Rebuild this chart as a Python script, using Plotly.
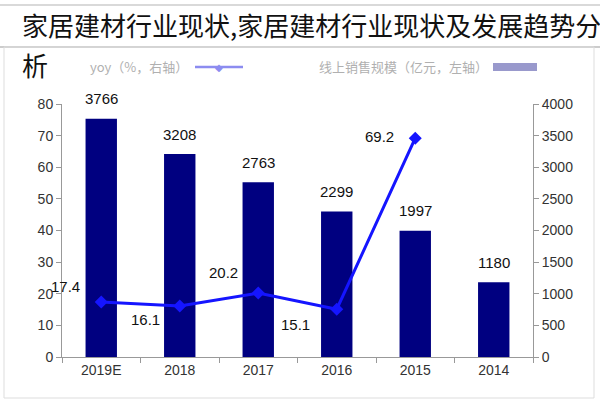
import plotly.graph_objects as go

categories = ["2019E", "2018", "2017", "2016", "2015", "2014"]
sales = [3766, 3208, 2763, 2299, 1997, 1180]          # 线上销售规模（亿元）
yoy = [17.4, 16.1, 20.2, 15.1, 69.2, None]            # yoy（%）
y_left_ticks = list(range(0, 81, 10))
y_right_ticks = list(range(0, 4001, 500))

# label offsets (pixels) for yoy labels, relative to point
yoy_dx = [-36, -34, -35, -41, -36, 0]
yoy_dy = [15, -13, 21, -15, 2, 0]

W, H = 600, 400
L, R, T, B = 62, 533, 104, 357


def px(x):
    return (x - L) / (R - L)


def py(y):
    return (B - y) / (B - T)


fig = go.Figure()
fig.add_trace(go.Bar(
    x=categories, y=sales, yaxis="y", name="线上销售规模（亿元，左轴）",
    marker=dict(color="#000080", line=dict(width=0)), width=0.4,
    showlegend=False,
))
fig.add_trace(go.Scatter(
    x=categories, y=yoy, yaxis="y2", name="yoy（%，右轴）",
    mode="lines+markers", line=dict(color="#1515ff", width=3),
    marker=dict(symbol="diamond", size=10, color="#1515ff"),
    cliponaxis=False, showlegend=False,
))

lab_font = dict(family="Liberation Sans, Arial", size=15, color="#111111")
for i, v in enumerate(sales):
    fig.add_annotation(x=i, y=v, xref="x", yref="y", text=str(v), showarrow=False,
                       yanchor="middle", yshift=20, font=lab_font)
for i, (v, dx, dy) in enumerate(zip(yoy, yoy_dx, yoy_dy)):
    if v is None:
        continue
    fig.add_annotation(x=i, y=v, xref="x", yref="y2", text=f"{v:.1f}", showarrow=False,
                       xanchor="center", yanchor="middle", xshift=dx, yshift=dy, font=lab_font)

axis_font = dict(family="Liberation Sans, Arial", size=14, color="#333333")
fig.update_layout(
    width=W, height=H,
    margin=dict(l=L, r=W - R, t=T, b=H - B),
    paper_bgcolor="white", plot_bgcolor="white",
    xaxis=dict(type="category", categoryorder="array", categoryarray=categories,
               range=[-0.5, len(categories) - 0.5],
               showline=True, linecolor="#999999", linewidth=1,
               ticks="outside", tickson="boundaries", ticklen=5, tickcolor="#999999",
               tickfont=axis_font, showgrid=False, zeroline=False),
    yaxis=dict(side="right", range=[0, 4000], tickvals=y_right_ticks,
               showline=True, linecolor="#999999", ticks="outside", ticklen=5,
               tickcolor="#999999", tickfont=axis_font, showgrid=False, zeroline=False),
    yaxis2=dict(side="left", overlaying="y", range=[0, 80], tickvals=y_left_ticks,
                showline=True, linecolor="#999999", ticks="outside", ticklen=5,
                tickcolor="#999999", tickfont=axis_font, showgrid=False, zeroline=False),
    showlegend=False,
)

# header title
title_font = dict(family="Noto Sans CJK SC", size=26, color="#111111")
fig.add_annotation(text="家居建材行业现状,家居建材行业现状及发展趋势分", xref="paper", yref="paper",
                   x=px(20), y=py(24), xanchor="left", yanchor="middle", showarrow=False,
                   font=title_font)
fig.add_annotation(text="析", xref="paper", yref="paper",
                   x=px(20), y=py(64), xanchor="left", yanchor="middle", showarrow=False,
                   font=title_font)

# legend (manual, faded)
leg_font = dict(family="Noto Sans CJK SC", size=13, color="#b0b0b0")
fig.add_annotation(text="yoy（%，右轴）", xref="paper", yref="paper",
                   x=px(190), y=py(67), xanchor="right", yanchor="middle", showarrow=False,
                   font=leg_font)
fig.add_annotation(text="线上销售规模（亿元，左轴）", xref="paper", yref="paper",
                   x=px(490), y=py(67), xanchor="right", yanchor="middle", showarrow=False,
                   font=leg_font)

shapes = [
    dict(type="line", xref="paper", yref="paper", x0=px(0), x1=px(600), y0=py(5), y1=py(5),
         line=dict(color="#cccccc", width=1.5)),
    dict(type="line", xref="paper", yref="paper", x0=px(0), x1=px(600), y0=py(47), y1=py(47),
         line=dict(color="#bbbbbb", width=1.5)),
    dict(type="rect", xref="paper", yref="paper", x0=px(4), x1=px(594), y0=py(398), y1=py(47),
         line=dict(color="#dddddd", width=1)),
    dict(type="line", xref="paper", yref="paper", x0=px(195), x1=px(243), y0=py(67), y1=py(67),
         line=dict(color="#8c8cf0", width=2.5)),
    dict(type="rect", xref="paper", yref="paper", x0=px(493), x1=px(537), y0=py(71), y1=py(63),
         fillcolor="#9999cc", line=dict(width=0)),
]
fig.update_layout(shapes=shapes)
fig.add_annotation(text="◆", xref="paper", yref="paper", x=px(219), y=py(67),
                   xanchor="center", yanchor="middle", showarrow=False,
                   font=dict(size=10, color="#8c8cf0"))

fig.write_html("out.html")
